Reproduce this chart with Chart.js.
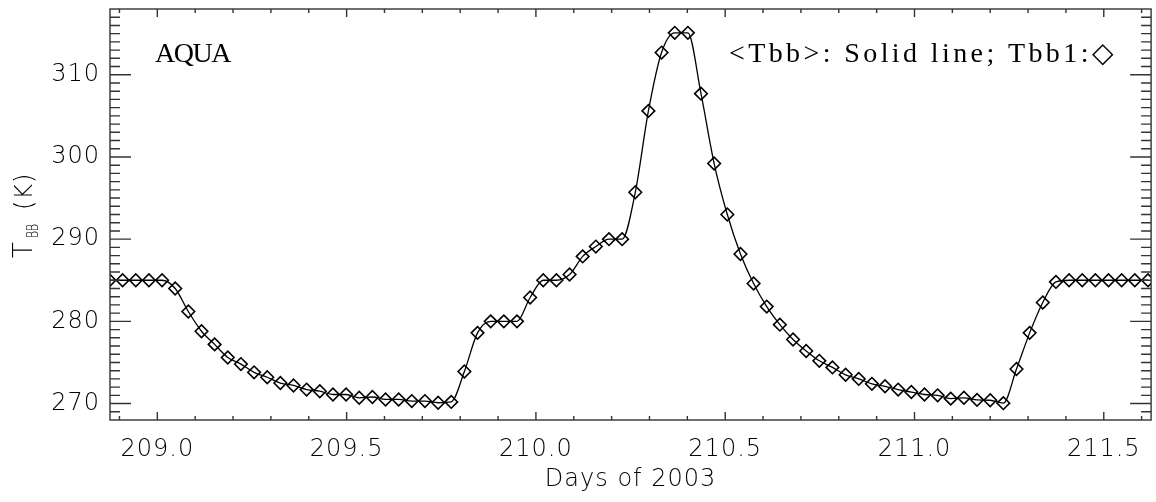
<!DOCTYPE html>
<html>
<head>
<meta charset="utf-8">
<script src="https://cdn.jsdelivr.net/npm/chart.js@4.4.0/dist/chart.umd.min.js"></script>
<style>
  html, body { margin: 0; padding: 0; background: #fff; overflow: hidden; }
  #wrap { position: absolute; left: 0; top: 0; width: 1159px; height: 502px; }
</style>
</head>
<body>
<div id="wrap"><canvas id="tbbChart"></canvas></div>
<script>
/* sample times (day of 2003) and blackbody temperature */
const days = [
  208.8736, 208.9083, 208.9431, 208.9778, 209.0125, 209.0472, 209.0819, 209.1167, 209.1514, 209.1861,
  209.2208, 209.2556, 209.2903, 209.3250, 209.3597, 209.3944, 209.4292, 209.4639, 209.4986, 209.5333,
  209.5681, 209.6028, 209.6375, 209.6722, 209.7069, 209.7417, 209.7764, 209.8111, 209.8458, 209.8806,
  209.9153, 209.9500, 209.9847, 210.0194, 210.0542, 210.0889, 210.1236, 210.1583, 210.1931, 210.2278,
  210.2625, 210.2972, 210.3319, 210.3667, 210.4014, 210.4361, 210.4708, 210.5056, 210.5403, 210.5750,
  210.6097, 210.6444, 210.6792, 210.7139, 210.7486, 210.7833, 210.8181, 210.8528, 210.8875, 210.9222,
  210.9569, 210.9917, 211.0264, 211.0611, 211.0958, 211.1306, 211.1653, 211.2000, 211.2347, 211.2694,
  211.3042, 211.3389, 211.3736, 211.4083, 211.4431, 211.4778, 211.5125, 211.5472, 211.5819, 211.6167
];
const tbb = [
  285.0, 285.0, 285.0, 285.0, 285.0, 284.0, 281.2, 278.8, 277.2, 275.6,
  274.8, 273.8, 273.2, 272.5, 272.2, 271.7, 271.5, 271.1, 271.1, 270.7,
  270.8, 270.5, 270.5, 270.3, 270.3, 270.1, 270.2, 273.9, 278.6, 280.0,
  280.0, 280.0, 282.9, 285.0, 285.0, 285.7, 287.9, 289.1, 290.0, 290.0,
  295.7, 305.6, 312.7, 315.1, 315.1, 307.7, 299.2, 293.0, 288.2, 284.6,
  281.8, 279.6, 277.8, 276.4, 275.2, 274.4, 273.5, 273.0, 272.4, 272.1,
  271.7, 271.4, 271.1, 271.0, 270.6, 270.7, 270.45, 270.4, 270.05, 274.2,
  278.6, 282.3, 284.8, 285.0, 285.0, 285.0, 285.0, 285.0, 285.0, 285.0
];
const xTicks = [209.0, 209.5, 210.0, 210.5, 211.0, 211.5];
const yTicks = [270, 280, 290, 300, 310];

const points = days.map((d, i) => ({ x: d, y: tbb[i] }));

// IDL style box: inward ticks on all four sides + annotations
const idlFrame = {
  id: 'idlFrame',
  beforeDraw(chart) {
    chart.ctx.letterSpacing = '1px';
  },
  afterDraw(chart) {
    const { ctx, chartArea: a, scales: { x, y } } = chart;
    ctx.save();
    ctx.strokeStyle = '#333';
    ctx.lineWidth = 1.4;
    ctx.beginPath();
    for (let i = 2089; i <= 2116; i++) {
      const px = x.getPixelForValue(i / 10);
      const len = i % 5 === 0 ? 8 : 4;
      ctx.moveTo(px, a.bottom); ctx.lineTo(px, a.bottom - len);
      ctx.moveTo(px, a.top); ctx.lineTo(px, a.top + len);
    }
    for (let v = 269; v <= 317; v++) {
      const py = y.getPixelForValue(v);
      const len = v % 10 === 0 ? 21 : 10;
      ctx.moveTo(a.left, py); ctx.lineTo(a.left + len, py);
      ctx.moveTo(a.right, py); ctx.lineTo(a.right - len, py);
    }
    ctx.stroke();
    ctx.strokeRect(a.left, a.top, a.right - a.left, a.bottom - a.top);

    ctx.fillStyle = '#000';
    ctx.textBaseline = 'alphabetic';
    ctx.textAlign = 'left';
    ctx.font = '28px "Liberation Serif", serif';
    ctx.letterSpacing = '-1.5px';
    ctx.fillText('AQUA', 155, 62);
    ctx.letterSpacing = '3.4px';
    ctx.fillText('<Tbb>: Solid line; Tbb1:\u25C7', 729, 62);

    // y title  T_BB (K)
    ctx.translate(32, 258);
    ctx.rotate(-Math.PI / 2);
    ctx.letterSpacing = '0px';
    ctx.font = '200 26px "DejaVu Sans", sans-serif';
    ctx.fillText('T', 0, 0);
    ctx.save();
    ctx.font = '200 16px "DejaVu Sans", sans-serif';
    ctx.translate(20, 6);
    ctx.scale(0.68, 1);
    ctx.fillText('BB', 0, 0);
    ctx.restore();
    ctx.font = '200 24px "DejaVu Sans", sans-serif';
    ctx.letterSpacing = '1px';
    ctx.fillText('(K)', 48, 0);
    ctx.restore();
  }
};

const tickFont = { family: '"DejaVu Sans", sans-serif', size: 24, weight: '200', lineHeight: 1 };

new Chart(document.getElementById('tbbChart'), {
  type: 'line',
  data: {
    datasets: [
      {
        label: '<Tbb>',
        data: points,
        borderColor: '#000',
        borderWidth: 1.3,
        pointRadius: 0,
        cubicInterpolationMode: 'monotone',
        fill: false
      },
      {
        label: 'Tbb1',
        data: points,
        showLine: false,
        pointStyle: 'rectRot',
        pointRadius: 6.3,
        pointBorderWidth: 1.6,
        pointBorderColor: '#000',
        pointBackgroundColor: 'rgba(0,0,0,0)'
      }
    ]
  },
  options: {
    responsive: true,
    maintainAspectRatio: false,
    animation: false,
    events: [],
    layout: { padding: { top: 9, left: 0, right: 0, bottom: 0 } },
    plugins: { legend: { display: false }, tooltip: { enabled: false } },
    scales: {
      x: {
        type: 'linear',
        min: 208.875,
        max: 211.625,
        grid: { display: false, drawTicks: false },
        border: { display: false },
        afterBuildTicks: s => { s.ticks = xTicks.map(v => ({ value: v })); },
        afterFit: s => { s.height = 82; s.paddingLeft = 0; s.paddingRight = 0; },
        ticks: {
          color: '#000',
          font: tickFont,
          padding: 18,
          maxRotation: 0,
          autoSkip: false,
          callback: v => v.toFixed(1)
        },
        title: {
          display: true,
          text: 'Days of 2003',
          color: '#000',
          font: tickFont,
          padding: { top: 0, bottom: 10 }
        }
      },
      y: {
        min: 268,
        max: 318,
        grid: { display: false, drawTicks: false },
        border: { display: false },
        afterBuildTicks: s => { s.ticks = yTicks.map(v => ({ value: v })); },
        afterFit: s => { s.width = 110; s.paddingTop = 0; s.paddingBottom = 0; },
        ticks: {
          color: '#000',
          font: tickFont,
          padding: 10,
          callback: v => String(v)
        }
      }
    }
  },
  plugins: [idlFrame]
});
</script>
</body>
</html>
